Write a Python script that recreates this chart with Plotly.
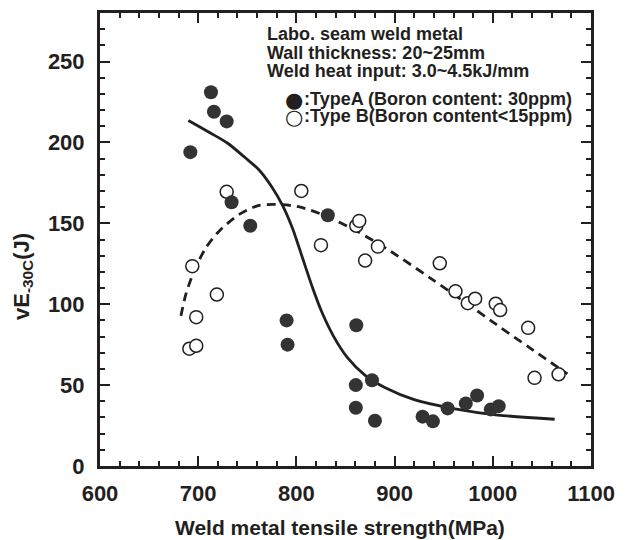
import plotly.graph_objects as go

# ---- data ----
typeA_x = [692, 713, 716, 729, 734, 753, 790, 791, 832, 861, 860.5, 860.5, 877, 880,
           928.5, 939, 954, 972.5, 984, 998, 1006]
typeA_y = [194, 231, 219, 213, 163, 148.5, 90, 75, 155, 87, 50, 36, 53, 28,
           30.5, 27.6, 35.6, 38.7, 43.6, 35, 37]

typeB_x = [691, 694, 698, 698, 719, 729, 805, 825, 861, 864, 870, 883, 946, 962,
           974.5, 982, 1003, 1007.5, 1036, 1042.5, 1067]
typeB_y = [72.5, 123.5, 74.3, 92, 106, 169.5, 170, 136.5, 148.5, 151.5, 127, 135.6, 125.3, 108,
           100.6, 103.4, 100.3, 96.4, 85.4, 54.5, 56.7]

# trend lines (knots)
fitA_x = [690, 712, 730, 748, 762, 775, 786, 796, 806, 816, 826, 838, 852, 870, 890, 920, 960, 1005, 1063]
fitA_y = [213.6, 206, 199.5, 190.5, 183, 172.5, 161, 147, 129, 111, 95, 80, 67, 56, 48.5, 41, 35.5, 31.5, 28.9]

fitB_x = [682.4, 687.4, 695.8, 707.6, 721, 741, 761, 778, 802, 829, 862, 896, 936, 970, 1003.5, 1037, 1076]
fitB_y = [92.8, 106.1, 120.4, 134.7, 145, 155.2, 160.9, 161.7, 160.3, 154.8, 145, 132.7, 116.3, 102, 87.5, 73.3, 56.9]

x_range = [600, 1100]
y_range = [0, 280]

info_lines = ["Labo. seam weld metal",
              "Wall thickness: 20~25mm",
              "Weld heat input: 3.0~4.5kJ/mm"]
legend_symbols = ["\u25cf", "\u25cb"]
legend_lines = [":TypeA (Boron content: 30ppm)",
                ":Type B(Boron content<15ppm)"]

x_title = "Weld metal tensile strength(MPa)"
y_title = "vE<sub>-30C</sub>(J)"

INK = "#231f20"
FONT = "Liberation Sans"

fig = go.Figure()

fig.add_trace(go.Scatter(x=fitA_x, y=fitA_y, mode="lines",
                         line=dict(color=INK, width=2.8, shape="spline", smoothing=0.8),
                         showlegend=False, hoverinfo="skip"))
fig.add_trace(go.Scatter(x=fitB_x, y=fitB_y, mode="lines",
                         line=dict(color=INK, width=2.8, dash="9px,6px", shape="spline", smoothing=0.8),
                         showlegend=False, hoverinfo="skip"))
fig.add_trace(go.Scatter(x=typeB_x, y=typeB_y, mode="markers", name="Type B",
                         marker=dict(symbol="circle", size=13, color="white",
                                     line=dict(color=INK, width=1.5)),
                         showlegend=False))
fig.add_trace(go.Scatter(x=typeA_x, y=typeA_y, mode="markers", name="TypeA",
                         marker=dict(symbol="circle", size=14, color="#333333",
                                     line=dict(color="#333333", width=0)),
                         showlegend=False))

axis_common = dict(
    ticks="inside", ticklen=10, tickwidth=2, tickcolor=INK,
    showline=True, linewidth=3, linecolor=INK, mirror="allticks",
    showgrid=False, zeroline=False,
    tickfont=dict(family=FONT, size=22, color=INK, weight="bold"),
)

fig.update_xaxes(range=x_range, dtick=100, tick0=600,
                 minor=dict(dtick=20, ticklen=5, tickwidth=1.5, ticks="inside", tickcolor=INK),
                 ticklabelstandoff=6, **axis_common)
fig.update_yaxes(range=y_range, dtick=50, tick0=0,
                 minor=dict(dtick=10, ticklen=5, tickwidth=1.5, ticks="inside", tickcolor=INK),
                 ticklabelstandoff=8, **axis_common)

L, R, T, B = 100, 29, 10, 74
W, H = 625, 540
pw, ph = W - L - R, H - T - B

def px_to_paper(px, py):
    return (px - L) / pw, (H - B - py) / ph

annos = []
for txt, ypx in zip(info_lines, [31.3, 50.5, 68.7]):
    xp, yp = px_to_paper(267, ypx)
    annos.append(dict(text=txt, x=xp, y=yp, xref="paper", yref="paper",
                      xanchor="left", yanchor="middle", showarrow=False,
                      font=dict(family=FONT, size=18, color=INK, weight="bold")))
for sym, txt, ypx in zip(legend_symbols, legend_lines, [96.7, 114]):
    xp, yp = px_to_paper(296, ypx + 1)
    annos.append(dict(text=sym, x=xp, y=yp, xref="paper", yref="paper",
                      xanchor="center", yanchor="middle", showarrow=False,
                      font=dict(family="DejaVu Sans", size=21, color=INK)))
    xp, yp = px_to_paper(304, ypx)
    annos.append(dict(text=txt, x=xp, y=yp, xref="paper", yref="paper",
                      xanchor="left", yanchor="middle", showarrow=False,
                      font=dict(family=FONT, size=18, color=INK, weight="bold")))

xp, yp = px_to_paper(342, 528)
annos.append(dict(text=x_title, x=xp, y=yp, xref="paper", yref="paper",
                  xanchor="center", yanchor="middle", showarrow=False,
                  font=dict(family=FONT, size=21, color=INK, weight="bold")))
xp, yp = px_to_paper(22, 275)
annos.append(dict(text=y_title, x=xp, y=yp, xref="paper", yref="paper",
                  xanchor="center", yanchor="middle", showarrow=False, textangle=-90,
                  font=dict(family=FONT, size=22, color=INK, weight="bold")))

fig.update_layout(width=W, height=H, margin=dict(l=L, r=R, t=T, b=B),
                  paper_bgcolor="white", plot_bgcolor="white",
                  annotations=annos, showlegend=False)

fig.write_html("out.html")
